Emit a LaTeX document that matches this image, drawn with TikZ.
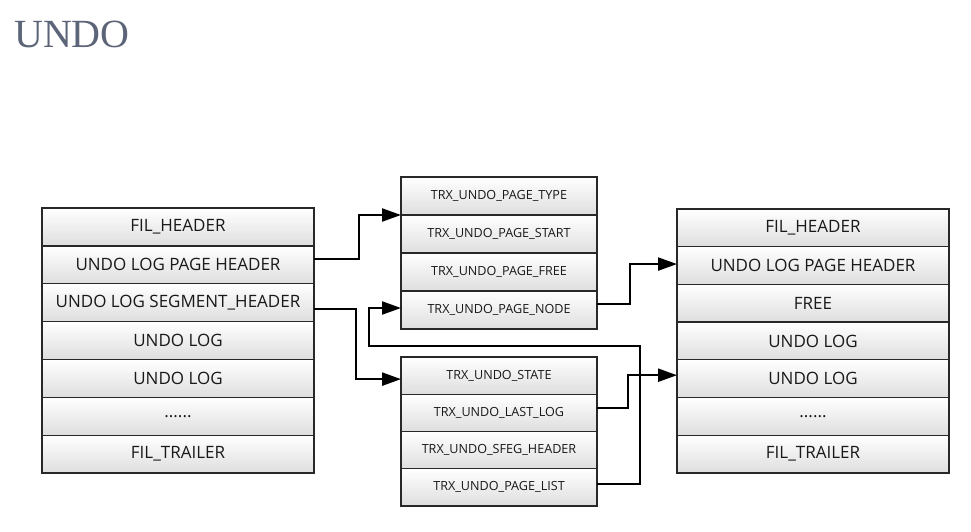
\documentclass[tikz,border=0pt]{standalone}
\usepackage{fontspec}
\setmainfont{Open Sans}
\newfontfamily\titlefont{Liberation Serif}
\usetikzlibrary{arrows.meta,calc}
\definecolor{titlecol}{RGB}{92,100,120}
\definecolor{cellline}{RGB}{40,40,40}
\definecolor{cellbot}{RGB}{222,222,222}
\newcommand{\sixdots}{......}
\tikzset{
  cell/.style={rectangle, draw=cellline, line width=1.3pt, top color=white, bottom color=cellbot,
    inner sep=0pt, outer sep=0pt, anchor=north west, text=black!90},
  bigcell/.style={cell, minimum width=272pt, font=\fontsize{17}{19}\selectfont},
  smallcell/.style={cell, minimum width=196pt, font=\fontsize{12.6}{14}\selectfont},
  outline/.style={draw=cellline, line width=1.8pt},
  conn/.style={line width=2.3pt, black, -{Triangle[length=19pt,width=13pt]}}
}
\begin{document}
\begin{tikzpicture}[x=1pt,y=-1pt]
\useasboundingbox (0,0) rectangle (971,532);
\node[anchor=base west, inner sep=0pt, text=titlecol, font=\titlefont\fontsize{40}{42}\selectfont] (title) at (14,48) {UNDO};
% left stack
\foreach \t [count=\i] in {FIL\_HEADER,UNDO LOG PAGE HEADER,UNDO LOG SEGMENT\_HEADER,UNDO LOG,UNDO LOG,{\sixdots},FIL\_TRAILER}
  \node[bigcell, minimum height=37.86pt] (L\i) at (42,{208+(\i-1)*37.86}) {\t};
\draw[outline] (42,208) rectangle (314,473);
% right stack
\foreach \t [count=\i] in {FIL\_HEADER,UNDO LOG PAGE HEADER,FREE,UNDO LOG,UNDO LOG,{\sixdots},FIL\_TRAILER}
  \node[bigcell, minimum height=37.71pt] (R\i) at (677,{209+(\i-1)*37.71}) {\t};
\draw[outline] (677,209) rectangle (949,473);
% middle top
\foreach \t [count=\i] in {TRX\_UNDO\_PAGE\_TYPE,TRX\_UNDO\_PAGE\_START,TRX\_UNDO\_PAGE\_FREE,TRX\_UNDO\_PAGE\_NODE}
  \node[smallcell, minimum height=38pt] (T\i) at (401,{177+(\i-1)*38}) {\t};
\draw[outline] (401,177) rectangle (597,329);
% middle bottom
\foreach \t [count=\i] in {TRX\_UNDO\_STATE,TRX\_UNDO\_LAST\_LOG,TRX\_UNDO\_SFEG\_HEADER,TRX\_UNDO\_PAGE\_LIST}
  \node[smallcell, minimum height=37.25pt] (B\i) at (401,{357+(\i-1)*37.25}) {\t};
\draw[outline] (401,357) rectangle (597,506);
% connectors
\draw[conn] ([yshift=6pt]L2.east) -- ++(45,0) |- (T1.south west);
\draw[conn] ([yshift=-6pt]L3.east) -- ++(42,0) |- ([yshift=-3.5pt]B1.west);
\draw[conn] ([yshift=6pt]T4.east) -- ++(33,0) |- ([yshift=1.5pt]R2.west);
\draw[conn] ([yshift=5pt]B2.east) -- ++(31,0) |- ([yshift=3.5pt]R5.west);
\coordinate (p5a) at (640,346);
\coordinate (p5b) at (369,346);
\draw[conn] ([yshift=3.5pt]B4.east) -| (p5a) -- (p5b) |- ([yshift=2pt]T4.west);
\end{tikzpicture}
\end{document}
